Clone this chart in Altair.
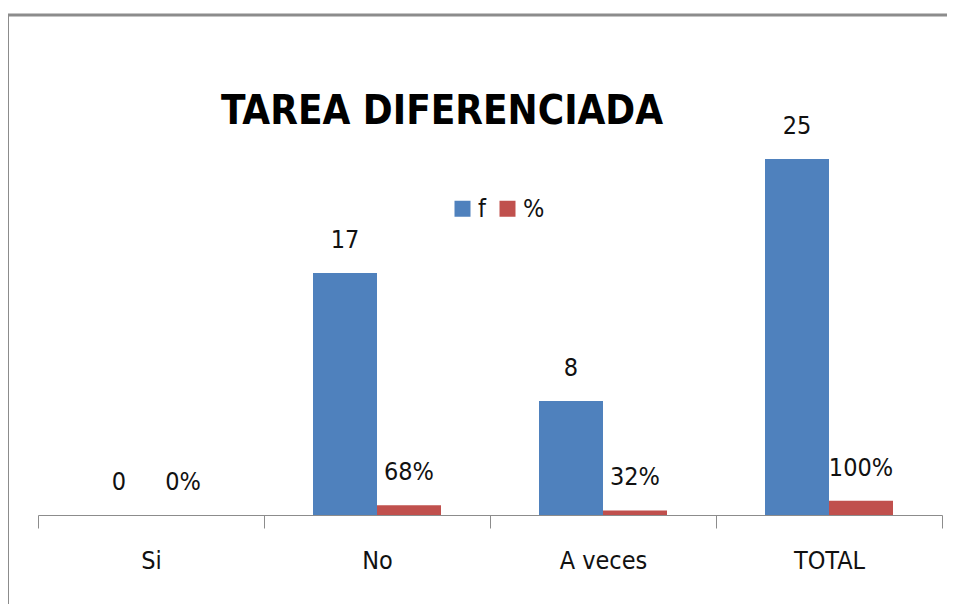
import altair as alt
import pandas as pd

categories = ["Si", "No", "A veces", "TOTAL"]
f_values = [0, 17, 8, 25]
pct_values = [0, 68, 32, 100]
series = ["f", "%"]
colors = ["#4F81BD", "#C0504D"]
chart_title = "TAREA DIFERENCIADA"

rows = []
for c, f, p in zip(categories, f_values, pct_values):
    rows.append({"cat": c, "serie": "f", "valor": f, "etiqueta": str(f)})
    rows.append({"cat": c, "serie": "%", "valor": p / 100, "etiqueta": f"{p}%"})
df = pd.DataFrame(rows)

FONT = "Liberation Sans Narrow, Arial Narrow, DejaVu Sans Condensed, sans-serif"

H = 589
xenc = alt.X(
    "cat:N",
    sort=categories,
    scale=alt.Scale(range=[30, 934], paddingInner=0, paddingOuter=0),
    axis=alt.Axis(
        title=None, offset=500 - H, labelAngle=0, tickBand="extent",
        domainColor="#8c8c8c", tickColor="#8c8c8c", tickSize=13,
        domainWidth=1, tickWidth=1,
        labelFont=FONT, labelFontSize=25, labelColor="#111111", labelPadding=20,
    ),
)
xoff = alt.XOffset("serie:N", sort=series, scale=alt.Scale(range=[49, 177], paddingOuter=0, paddingInner=0))
yenc = alt.Y("valor:Q", scale=alt.Scale(domain=[0, 25], range=[500, 144]), axis=None)

base = alt.Chart(df)

bars = base.mark_bar().encode(
    x=xenc, xOffset=xoff, y=yenc,
    color=alt.Color(
        "serie:N", sort=series,
        scale=alt.Scale(domain=series, range=colors),
        legend=alt.Legend(
            title=None, orient="none", legendX=442, legendY=181,
            direction="horizontal", symbolType="square", symbolSize=256,
            symbolStrokeWidth=0, symbolOpacity=1,
            labelFont=FONT, labelFontSize=25, labelColor="#111111",
            columnPadding=9, labelOffset=3,
        ),
    ),
)

labels = base.mark_text(dy=-33, baseline="middle", fontSize=25, font=FONT, color="#111111").encode(
    x=xenc, xOffset=xoff, y=yenc, text="etiqueta:N"
)

title = alt.Chart(pd.DataFrame({"t": [chart_title]})).mark_text(
    fontSize=40, fontWeight="bold", font=FONT, align="center", baseline="alphabetic", color="#000000"
).encode(x=alt.value(434), y=alt.value(109), text="t:N")

frame_top = alt.Chart(pd.DataFrame({"k": [0]})).mark_rule(color="#8c8c8c", strokeWidth=3).encode(
    x=alt.value(0), x2=alt.value(939), y=alt.value(0)
)
frame_left = alt.Chart(pd.DataFrame({"k": [0]})).mark_rule(color="#8c8c8c", strokeWidth=2).encode(
    x=alt.value(0), y=alt.value(0), y2=alt.value(H)
)

chart = (
    alt.layer(frame_top, frame_left, bars, labels, title)
    .properties(
        width=939, height=H,
        padding={"left": 0, "top": 7, "right": 0, "bottom": 0},
        autosize=alt.AutoSizeParams(type="none"),
    )
    .configure_view(stroke=None)
)

chart.save("out.html", embed_options={"renderer": "svg", "actions": False})
